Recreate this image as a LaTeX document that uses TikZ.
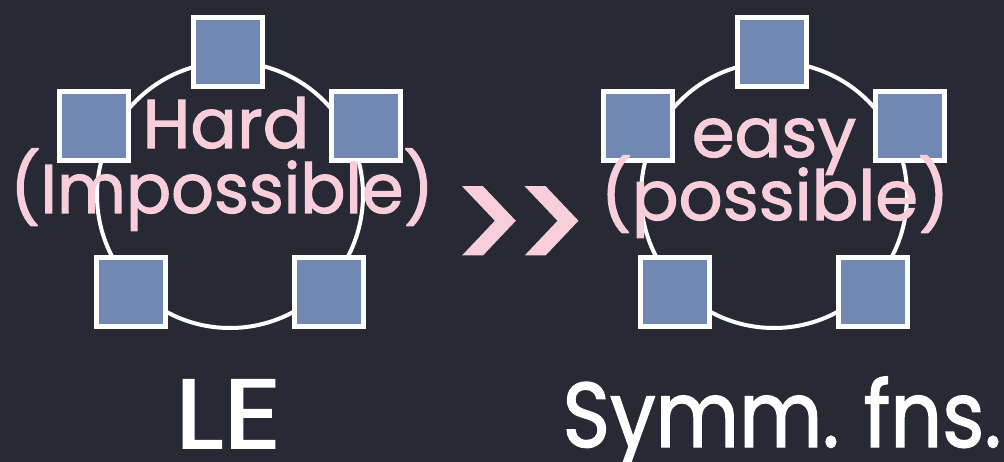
\documentclass[tikz,border=0pt]{standalone}
\usepackage{fontspec}
\setmainfont{Poppins}
\newfontfamily\chalk{Poppins}[FakeBold=1.6]
\newfontfamily\chalkgg{Poppins}[FakeBold=3.5]
\definecolor{board}{RGB}{39,42,53}
\definecolor{sqblue}{RGB}{112,136,178}
\definecolor{chalkpink}{RGB}{247,206,218}
\begin{document}
\begin{tikzpicture}[x=1pt,y=-1pt,
  sq/.style={draw=white, line width=5pt, fill=sqblue, rectangle, minimum size=69pt, inner sep=0pt},
  ring/.style={draw=white, line width=4pt, circle, minimum size=266pt, inner sep=0pt},
  lbl/.style={text=chalkpink, anchor=base, inner sep=0pt, font=\chalk\fontsize{69}{69}\selectfont},
  big/.style={text=white, anchor=base, inner sep=0pt}]
\fill[board] (0,0) rectangle (1004,462);
\useasboundingbox (0,0) rectangle (1004,462);
% left ring
\node[ring] (Lc) at (230,195) {};
\node[sq] (L1) at (228,52) {};
\node[sq] (L2) at (94,126) {};
\node[sq] (L3) at (366,126) {};
\node[sq] (L4) at (131,292) {};
\node[sq] (L5) at (329,292) {};
% right ring
\node[ring] (Rc) at (774,195) {};
\node[sq] (R1) at (772,52) {};
\node[sq] (R2) at (638,126) {};
\node[sq] (R3) at (910,126) {};
\node[sq] (R4) at (675,292) {};
\node[sq] (R5) at (873,292) {};
% labels
\node[lbl] (hard) at (226,148) {Hard};
\node[lbl] (imp) at (222,213) {\scalebox{0.97}[1]{(Impossible)}};
\node[lbl] (easy) at (774,157) {easy};
\node[lbl] (pos) at (775,220) {(possible)};
\node[lbl, font=\chalkgg\fontsize{140}{140}\selectfont] (gg) at (521,272) {\scalebox{0.9}[1]{{>}\kern-6pt{>}}};
\node[big, font=\chalk\fontsize{98}{98}\selectfont] (le) at (228,448) {\scalebox{1.15}[1]{LE}};
\node[big, font=\chalk\fontsize{92}{92}\selectfont] (sf) at (782,447) {\scalebox{0.88}[1]{Symm.\hspace{0.3em}fns.}};
\end{tikzpicture}
\end{document}
